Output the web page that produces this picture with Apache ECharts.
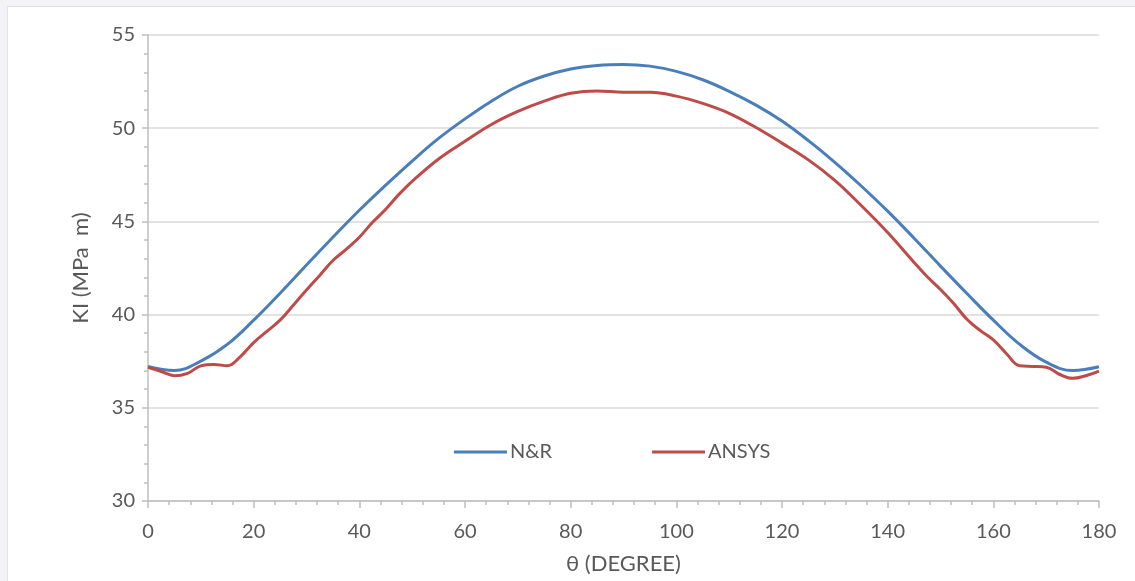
<!DOCTYPE html>
<html>
<head>
<meta charset="utf-8">
<script src="https://cdn.jsdelivr.net/npm/echarts@6/dist/echarts.min.js"></script>
<style>
  html, body { margin: 0; padding: 0; background: #f3f3f7; }
  #frame { position: absolute; left: 7px; top: 6px; width: 1140px; height: 590px;
           background: #ffffff; border: 1px solid #e2e2ec; }
  #chart { position: absolute; left: 0; top: 0; width: 1135px; height: 581px; }
</style>
</head>
<body>
<div id="frame"></div>
<div id="chart"></div>
<script>
// Stress intensity factor KI versus crack angle θ
const thetaNR = [0, 5, 10, 15, 20, 25, 30, 35, 40, 45, 50, 55, 60, 65, 70, 75, 80, 85, 90,
                 95, 100, 105, 110, 115, 120, 125, 130, 135, 140, 145, 150, 155, 160, 165, 170, 175, 180];
const kiNR = [37.22, 37.0, 37.5, 38.4, 39.7, 41.15, 42.66, 44.15, 45.6, 46.95, 48.24, 49.45, 50.5,
              51.45, 52.25, 52.8, 53.18, 53.37, 53.42, 53.33, 53.05, 52.6, 51.98, 51.25, 50.38,
              49.33, 48.17, 46.9, 45.55, 44.1, 42.6, 41.13, 39.7, 38.4, 37.45, 37.0, 37.2];

const thetaANSYS = [0, 2.5, 5, 7.5, 10, 12.5, 15, 17.5, 20, 22.5, 25, 27.5, 30, 32.5, 35, 37.5, 40,
                    42.5, 45, 47.5, 50, 55, 60, 65, 70, 75, 80, 85, 90, 95, 100, 105, 110, 115,
                    120, 125, 130, 135, 140, 145, 147.5, 150, 152.5, 155, 157.5, 160, 162.5, 165,
                    167.5, 170, 172.5, 175, 177.5, 180];
const kiANSYS = [37.17, 36.95, 36.72, 36.85, 37.25, 37.32, 37.26, 37.75, 38.5, 39.1, 39.7, 40.5,
                 41.32, 42.1, 42.9, 43.5, 44.15, 44.95, 45.65, 46.45, 47.15, 48.35, 49.3, 50.2,
                 50.9, 51.45, 51.87, 52.0, 51.93, 51.93, 51.72, 51.33, 50.8, 50.05, 49.2, 48.3,
                 47.2, 45.85, 44.4, 42.8, 42.03, 41.35, 40.6, 39.75, 39.15, 38.64, 37.9, 37.25,
                 37.22, 37.18, 36.8, 36.58, 36.72, 36.97];

const seriesNames = ['N&R', 'ANSYS'];
const xTitle = 'θ (DEGREE)';
const yTitle = 'KI (MPa  m)';

const zip = (xs, ys) => xs.map((x, i) => [x, ys[i]]);

const fontFamily = 'Lato, "Open Sans", sans-serif';
const textColor = '#595959';
const axisColor = '#bfbfbf';

const chart = echarts.init(document.getElementById('chart'), null, { renderer: 'canvas' });
chart.setOption({
  backgroundColor: 'transparent',
  animation: false,
  textStyle: { fontFamily: fontFamily },
  grid: { left: 148, right: 36, top: 35, bottom: 80, containLabel: false },
  legend: {
    left: 449, top: 437,
    itemWidth: 53, itemHeight: 3, itemGap: 100,
    icon: 'rect',
    textStyle: { color: textColor, fontSize: 20, fontFamily: fontFamily, padding: [0, 0, 0, -2] },
    data: seriesNames
  },
  xAxis: {
    type: 'value', min: 0, max: 180, interval: 20,
    name: xTitle, nameLocation: 'middle', nameGap: 52,
    nameTextStyle: { color: textColor, fontSize: 22, fontFamily: fontFamily },
    axisLine: { lineStyle: { color: axisColor, width: 1.5 } },
    axisTick: { show: true, length: 7, lineStyle: { color: axisColor, width: 1.5 } },
    minorTick: { show: true, splitNumber: 5, length: 4, lineStyle: { color: axisColor, width: 1.5 } },
    axisLabel: { color: textColor, fontSize: 20, margin: 21 },
    splitLine: { show: false }
  },
  yAxis: {
    type: 'value', min: 30, max: 55, interval: 5,
    name: yTitle, nameLocation: 'middle', nameGap: 56,
    nameTextStyle: { color: textColor, fontSize: 22, fontFamily: fontFamily },
    axisLine: { show: true, lineStyle: { color: axisColor, width: 1.5 } },
    axisTick: { show: true, length: 6, lineStyle: { color: axisColor, width: 1.5 } },
    minorTick: { show: true, splitNumber: 5, length: 4, lineStyle: { color: axisColor, width: 1.5 } },
    axisLabel: { color: textColor, fontSize: 20, margin: 13 },
    splitLine: { show: true, lineStyle: { color: '#d9d9d9', width: 1.5 } }
  },
  series: [
    {
      name: seriesNames[0], type: 'line', data: zip(thetaNR, kiNR),
      smooth: 0.4, showSymbol: false, symbol: 'none',
      lineStyle: { color: '#4a7ebb', width: 3 }, itemStyle: { color: '#4a7ebb' }
    },
    {
      name: seriesNames[1], type: 'line', data: zip(thetaANSYS, kiANSYS),
      smooth: 0.4, showSymbol: false, symbol: 'none',
      lineStyle: { color: '#be4b48', width: 3 }, itemStyle: { color: '#be4b48' }
    }
  ]
});
</script>
</body>
</html>
